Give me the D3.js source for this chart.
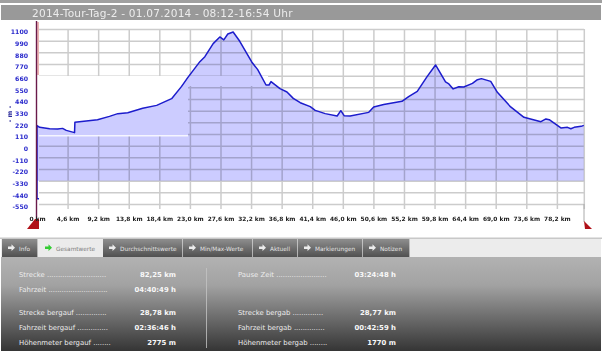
<!DOCTYPE html>
<html><head><meta charset="utf-8">
<script src="https://cdn.jsdelivr.net/npm/d3@7/dist/d3.min.js"></script>
<style>html,body{margin:0;padding:0;background:#fff;overflow:hidden}svg{display:block;filter:blur(0.35px)}</style>
</head><body><div id="c"></div>
<script>
const titleText = "2014-Tour-Tag-2 - 01.07.2014 - 08:12-16:54 Uhr";
const km = [0.3,0,0,0.4,1.9,3.1,3.85,4.4,5.65,5.7,7.4,9.1,10.9,12.15,13.65,15.9,18.0,20.25,21.75,22.7,24.5,25.25,26.5,27.5,28.1,28.7,29.5,30.5,32.3,33.2,34.45,34.9,35.2,36.55,37.6,38.55,39.6,41.1,41.85,43.35,45.15,45.7,46.2,47.1,49.9,50.65,52.15,54.9,55.9,57.2,58.7,59.95,61.45,61.95,62.6,63.45,64.2,65.5,66.25,66.85,68.25,69.25,71.25,73.25,75.8,76.55,77.05,78.8,79.8,80.3,80.8,81.85,82.25];
const metres = [-500,-500,189,173,160,157,163,144,123,220,233,245,276,302,311,352,380,443,559,644,792,839,962,1025,997,1053,1072,984,789,717,572,572,604,538,506,446,405,368,333,302,280,330,283,280,314,365,389,418,462,512,653,761,601,582,535,556,553,587,622,632,606,503,365,267,226,252,245,167,173,160,173,182,191];
const yTicks = [1100,990,880,770,660,550,440,330,220,110,0,-110,-220,-330,-440,-550];
const xTicks = [0,4.6,9.2,13.8,18.4,23.0,27.6,32.2,36.8,41.4,46.0,50.6,55.2,59.8,64.4,69.0,73.6,78.2];
const xLabels = ["0 km","4,6 km","9,2 km","13,8 km","18,4 km","23,0 km","27,6 km","32,2 km","36,8 km","41,4 km","46,0 km","50,6 km","55,2 km","59,8 km","64,4 km","69,0 km","73,6 km","78,2 km"];
const tabNames = ["Info","Gesamtwerte","Durchschnittswerte","Min/Max-Werte","Aktuell","Markierungen","Notizen"];
const tabEdges = [2,38,103,183,253,298,363,410];
const leftLabels = ["Strecke ...........................","Fahrzeit ...........................","Strecke bergauf ..............","Fahrzeit bergauf ..............","Höhenmeter bergauf ........"];
const leftValues = ["82,25 km","04:40:49 h","28,78 km","02:36:46 h","2775 m"];
const rightLabels = ["Pause Zeit .......................","","Strecke bergab ..............","Fahrzeit bergab ..............","Höhenmeter bergab ........"];
const rightValues = ["03:24:48 h","","28,77 km","00:42:59 h","1770 m"];
const rowY = [274,289,312.5,327,342];

const W=605,H=351,FONT="'DejaVu Sans',Verdana,sans-serif";
const svg=d3.select("#c").append("svg").attr("width",W).attr("height",H).style("font-family",FONT);
const defs=svg.append("defs");
const pg=defs.append("linearGradient").attr("id","panel").attr("x1",0).attr("x2",0).attr("y1",0).attr("y2",1);
pg.append("stop").attr("offset",0).attr("stop-color","#b2b2b2");
pg.append("stop").attr("offset",0.3).attr("stop-color","#a2a2a2");
pg.append("stop").attr("offset",1).attr("stop-color","#353535");
const tg=defs.append("linearGradient").attr("id","tab").attr("x1",0).attr("x2",0).attr("y1",0).attr("y2",1);
tg.append("stop").attr("offset",0).attr("stop-color","#8e8e8e");
tg.append("stop").attr("offset",1).attr("stop-color","#505050");

// header
svg.append("rect").attr("x",0).attr("y",0).attr("width",602).attr("height",3).attr("fill","#a0a0a0");
svg.append("rect").attr("x",1).attr("y",5).attr("width",600).attr("height",15).attr("fill","#999");
svg.append("text").attr("x",32).attr("y",17).attr("font-size",10.6).attr("fill","#ececec").attr("letter-spacing",0.2).text(titleText);

// scales
const x=d3.scaleLinear().domain([0,82.25]).range([37,583.8]);
const y=d3.scaleLinear().domain([1100,-550]).range([29,204]);
const base=-330;

// grid
const gridColor="#cccccc";
const gx=svg.append("g").attr("transform","translate(0,29)")
  .call(d3.axisBottom(x).tickValues(xTicks.slice(1).concat([82.25])).tickSize(180).tickFormat(""));
gx.select(".domain").remove();
gx.selectAll("line").attr("stroke",gridColor).attr("stroke-width",1.5);
const gy=svg.append("g").attr("transform","translate(39,0)")
  .call(d3.axisRight(y).tickValues(yTicks).tickSize(545).tickFormat(""));
gy.select(".domain").remove();
gy.selectAll("line").attr("stroke",gridColor).attr("stroke-width",1.5);

// blank patches in the screenshot where the grid is missing
[[39,76,149,60],[188,76,80,10]].forEach(r=>svg.append("rect").attr("x",r[0]).attr("y",r[1]).attr("width",r[2]).attr("height",r[3]).attr("fill","#fff"));

// area and line
const pts=km.map((k,i)=>({k,m:metres[i]}));
const area=d3.area().defined(d=>d.m>base).x(d=>x(d.k)).y0(y(base)).y1(d=>y(d.m));
svg.append("path").datum(pts).attr("d",area).attr("fill","#ccccff").style("mix-blend-mode","multiply");
svg.append("rect").attr("x",39).attr("y",135.2).attr("width",149).attr("height",1.2).attr("fill","#fff");
svg.append("path").datum(pts).attr("d",d3.line().x(d=>x(d.k)).y(d=>y(d.m)))
  .attr("fill","none").attr("stroke","#1c1ccc").attr("stroke-width",1.5).attr("stroke-linejoin","round");

// axis marker lines
svg.append("rect").attr("x",37.3).attr("y",22).attr("width",1.5).attr("height",53).attr("fill","#e8a0a0");
svg.append("line").attr("x1",36.5).attr("x2",36.5).attr("y1",21).attr("y2",226).attr("stroke","#6a1a4a").attr("stroke-width",1.4);
svg.append("line").attr("x1",584).attr("x2",584).attr("y1",204).attr("y2",222).attr("stroke","#aaa").attr("stroke-width",1);
svg.append("path").attr("d","M27,229L35,219L39,219L39,229Z").attr("fill","#b01018");
svg.append("path").attr("d","M584,221L592,229L585,229Z").attr("fill","#b01018");

// axis labels
const ax=svg.append("g").attr("transform","translate(0,0)")
  .call(d3.axisLeft(y).tickValues(yTicks).tickSize(0).tickPadding(0).tickFormat(d=>d));
ax.select(".domain").remove();
ax.attr("transform","translate(28,2.8)");
ax.selectAll("text").attr("font-size",6.2).attr("font-weight","bold").attr("fill","#2a2acc").attr("font-family",FONT);
svg.append("text").attr("transform","translate(11.5,114) rotate(-90)").attr("text-anchor","middle")
  .attr("font-size",6.5).attr("font-weight","bold").attr("fill","#2a2a99").text("- m -");
const bx=svg.append("g").attr("transform","translate(0,220.5)")
  .call(d3.axisBottom(x).tickValues(xTicks).tickSize(0).tickPadding(0).tickFormat((d,i)=>xLabels[i]));
bx.select(".domain").remove();
bx.selectAll("text").attr("dy",0).attr("font-size",5.9).attr("font-weight","bold").attr("fill","#222").attr("font-family",FONT);

// bottom panel
svg.append("rect").attr("x",0).attr("y",237.5).attr("width",602).attr("height",1.5).attr("fill","#c8c8c8");
svg.append("rect").attr("x",1).attr("y",239).attr("width",600).attr("height",18).attr("fill","#ececec");
svg.append("rect").attr("x",1).attr("y",257).attr("width",600).attr("height",94).attr("fill","url(#panel)");

tabNames.forEach((t,i)=>{
  const a=tabEdges[i],b=tabEdges[i+1],active=i===1;
  svg.append("rect").attr("x",a).attr("y",239).attr("width",b-a-0.6).attr("height",18).attr("fill",active?"#ebebeb":"url(#tab)");
  const ax0=a+(active?7:6), col=active?"#33cc33":"#ececec";
  svg.append("path").attr("d",`M${ax0},${246.5}h3.5v-2.2l3.5,3.4l-3.5,3.4v-2.2h-3.5z`).attr("fill",col);
  svg.append("text").attr("x",a+(active?18:17)).attr("y",250.5).attr("font-size",5.8)
    .attr("fill",active?"#808080":"#e6e6e6").text(t);
});

function rows(labels,values,lx,vx){
  labels.forEach((l,i)=>{
    if(!l) return;
    svg.append("text").attr("x",lx).attr("y",rowY[i]+2.5).attr("font-size",6.9).attr("fill","#ececec").text(l);
    svg.append("text").attr("x",vx).attr("y",rowY[i]+2.5).attr("text-anchor","end").attr("font-size",6.9)
      .attr("font-weight","bold").attr("fill","#f8f8f8").text(values[i]);
  });
}
rows(leftLabels,leftValues,19,176);
rows(rightLabels,rightValues,238,396);
svg.append("line").attr("x1",206.5).attr("x2",206.5).attr("y1",268).attr("y2",348).attr("stroke","#c4c4c4").attr("stroke-width",0.8);
</script></body></html>
